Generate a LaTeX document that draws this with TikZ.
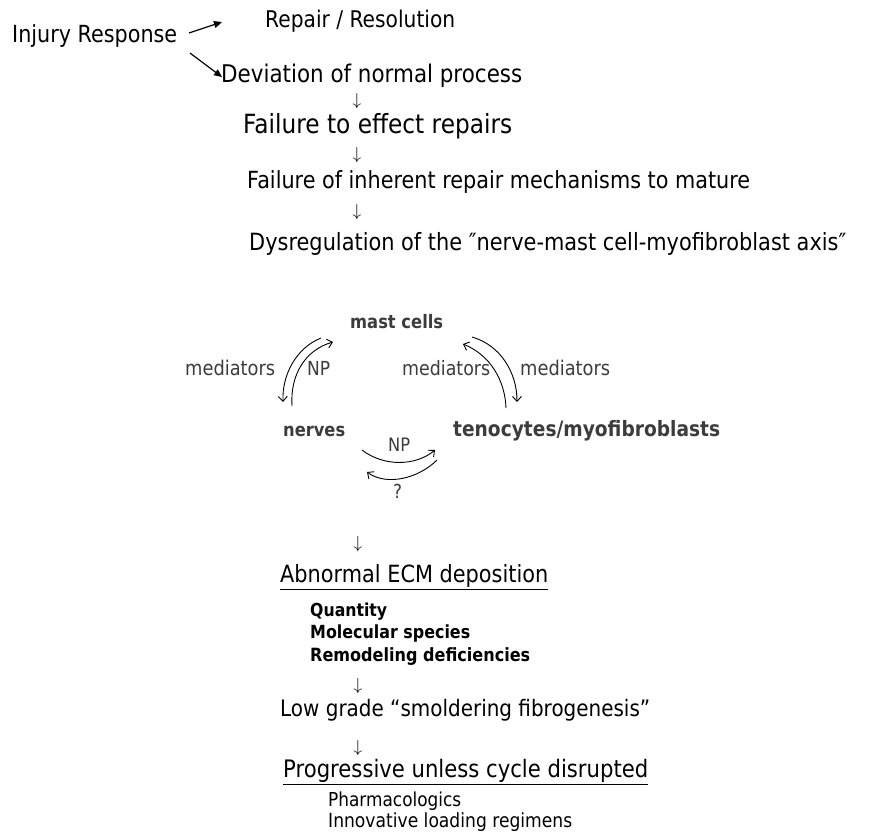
\documentclass[tikz,border=0pt]{standalone}
\usepackage{fontspec}
\usepackage{graphicx}
\setmainfont{DejaVu Sans}[FakeStretch=0.88]
\usetikzlibrary{arrows.meta,calc}
\definecolor{cycgray}{HTML}{3C3C3C}
\newcommand\fitto[2]{\resizebox{#1pt}{!}{#2}}
\tikzset{
  txt/.style={inner sep=0pt, anchor=base west, font=\fontsize{18}{20}\selectfont},
  cyc/.style={txt, text=cycgray},
  cycb/.style={txt, text=cycgray, font=\fontsize{16}{18}\selectfont\bfseries},
  lst/.style={txt, font=\fontsize{15}{17}\selectfont\bfseries},
  dn/.style={inner sep=0pt, anchor=center, font=\fontsize{19}{21}\selectfont},
  tri/.style={line width=1.2pt, -{Triangle[length=8pt,width=7pt]}},
  cur/.style={line width=0.9pt, -{Straight Barb[length=5pt,width=9pt]}}
}
\begin{document}
\begin{tikzpicture}[x=1pt,y=-1pt]
\useasboundingbox (0,0) rectangle (876,833);
\fill[white] (0,0) rectangle (876,833);
% top chain
\node[txt] (inj) at (12,42) {\fitto{165}{Injury Response}};
\node[txt] (rep) at (265,27) {\fitto{190}{Repair / Resolution}};
\node[txt] (dev) at (221,82) {\fitto{301}{Deviation of normal process}};
\node[dn] (d1) at (357,101) {$\downarrow$};
\node[txt] (f1) at (243,133) {\fitto{269}{Failure to effect repairs}};
\node[dn] (d2) at (357,155) {$\downarrow$};
\node[txt] (f2) at (247,188) {\fitto{503}{Failure of inherent repair mechanisms to mature}};
\node[dn] (d3) at (357,212) {$\downarrow$};
\node[txt] (dys) at (249,250) {\fitto{597}{Dysregulation of the ″nerve-mast cell-myofibroblast axis″}};
\draw[tri] ($(inj.base west)+(177,-9)$) -- ($(rep.base west)+(-43,-5)$);
\draw[tri] ($(inj.base west)+(178,11)$) -- ($(dev.base west)+(1,-5)$);
% cycle
\node[cycb] (mast) at (350,328) {\fitto{93}{mast cells}};
\node[cyc] (medL) at (185,375) {\fitto{90}{mediators}};
\node[cyc] (npL) at (307,375) {\fitto{23}{NP}};
\node[cyc] (medM) at (402,375) {\fitto{88}{mediators}};
\node[cyc] (medR) at (520,375) {\fitto{90}{mediators}};
\node[cycb] (nerv) at (283,436) {\fitto{62}{nerves}};
\node[cycb] (teno) at (453,436) {\fitto{267}{tenocytes/myofibroblasts}};
\node[cyc] (npB) at (388,451) {\fitto{22}{NP}};
\node[cyc] (qm) at (393,498) {\fitto{9}{?}};
\draw[cur] ($(mast.base west)+(-29,10)$) .. controls +(-25,10) and +(-1,-27) .. ($(nerv.base west)+(0,-34)$);
\draw[cur] ($(nerv.base west)+(9,-30)$) .. controls +(-2,-31) and +(-28,8) .. ($(mast.base west)+(-17,14)$);
\draw[cur] ($(mast.base west)+(122,9)$) .. controls +(28,8) and +(0,-30) .. ($(teno.base west)+(64,-34)$);
\draw[cur] ($(teno.base west)+(53,-28)$) .. controls +(-1,-28) and +(27,11) .. ($(mast.base west)+(113,16)$);
\draw[cur] ($(nerv.base west)+(79,14)$) .. controls +(22,17) and +(-19,16) .. ($(teno.base west)+(-18,14)$);
\draw[cur] ($(teno.base west)+(-16,24)$) .. controls +(-19,19) and +(19,14) .. ($(nerv.base west)+(84,36)$);
% lower chain
\node[dn] (d4) at (358,544) {$\downarrow$};
\node[txt] (abn) at (280,582) {\fitto{268}{\underline{Abnormal ECM deposition}}};
\node[lst] (l1) at (310,616) {\fitto{77}{Quantity}};
\node[lst] (l2) at (310,638) {\fitto{160}{Molecular species}};
\node[lst] (l3) at (310,661) {\fitto{220}{Remodeling deficiencies}};
\node[dn] (d5) at (358,686) {$\downarrow$};
\node[txt] (low) at (280,716) {\fitto{370}{Low grade “smoldering fibrogenesis”}};
\node[dn] (d6) at (358,748) {$\downarrow$};
\node[txt] (prog) at (283,777) {\fitto{365}{\underline{Progressive unless cycle disrupted}}};
\node[txt] (p1) at (328,806) {\fitto{133}{Pharmacologics}};
\node[txt] (p2) at (328,827) {\fitto{244}{Innovative loading regimens}};
\end{tikzpicture}
\end{document}
